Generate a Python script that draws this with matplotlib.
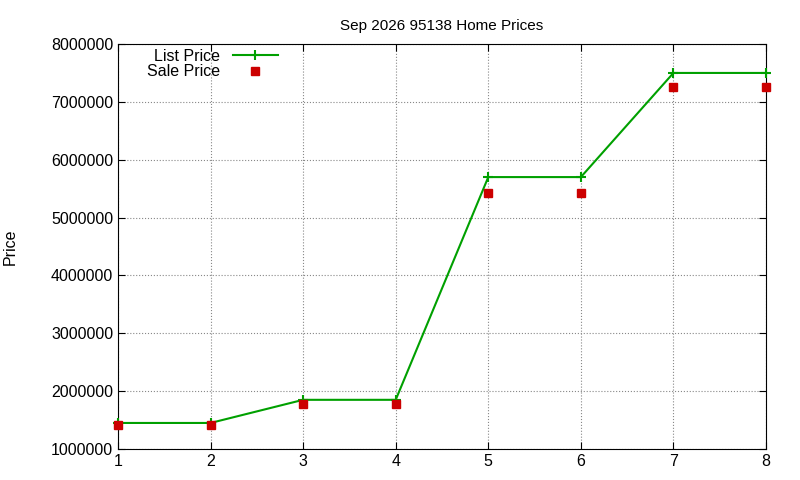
import matplotlib
matplotlib.use("Agg")
import matplotlib.pyplot as plt

plt.rcParams['font.family'] = ['Liberation Sans', 'DejaVu Sans']

months = [1, 2, 3, 4, 5, 6, 7, 8]
list_price = [1450000, 1450000, 1850000, 1850000, 5700000, 5700000, 7500000, 7500000]
sale_price = [1410000, 1410000, 1780000, 1780000, 5420000, 5420000, 7250000, 7250000]
yticks = [1000000, 2000000, 3000000, 4000000, 5000000, 6000000, 7000000, 8000000]

fig = plt.figure(figsize=(8, 4.8), dpi=100)
ax = fig.add_axes([0.1475, 0.0646, 0.81, 0.8437])

ax.plot(months, list_price, color='#00a000', linewidth=1.5, marker='+',
        markersize=7, markeredgewidth=1.5, label='List Price', clip_on=False, zorder=3)
ax.plot(months, sale_price, linestyle='none', marker='s', color='#cc0000',
        markersize=5.5, label='Sale Price', clip_on=False, zorder=4)

ax.set_xlim(1, 8)
ax.set_ylim(1000000, 8000000)
ax.set_xticks(months)
ax.set_yticks(yticks)
ax.set_yticklabels([str(v) for v in yticks])
ax.tick_params(labelsize=11.5, direction='in', length=5, top=True, right=True)
ax.grid(True, color='#888888', linestyle=':', linewidth=0.8)

ax.set_title('Sep 2026 95138 Home Prices', fontsize=11, pad=10)
ax.set_ylabel('Price', fontsize=11.5, labelpad=24)

ax.legend(loc='upper left', bbox_to_anchor=(0.025, 1.02), frameon=False,
          markerfirst=False, fontsize=11.5, handlelength=2.8,
          borderpad=0.3, labelspacing=0.05)

fig.savefig('out.png', dpi=100)
